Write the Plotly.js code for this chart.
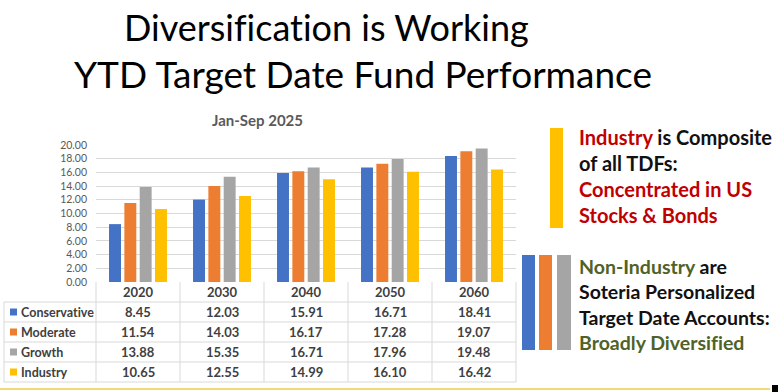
<!DOCTYPE html>
<html>
<head>
<meta charset="utf-8">
<script src="https://cdn.plot.ly/plotly-3.0.1.min.js"></script>
<style>html,body{margin:0;padding:0;background:#fff;}#chart{width:778px;height:392px;}#chart text{font-variant-ligatures:none;font-feature-settings:"liga" 0;}</style>
</head>
<body>
<div id="chart"></div>
<script>
const categories = ['2020', '2030', '2040', '2050', '2060'];
const conservative = [8.45, 12.03, 15.91, 16.71, 18.41];
const moderate = [11.54, 14.03, 16.17, 17.28, 19.07];
const growth = [13.88, 15.35, 16.71, 17.96, 19.48];
const industry = [10.65, 12.55, 14.99, 16.10, 16.42];
const seriesNames = ['Conservative', 'Moderate', 'Growth', 'Industry'];
const seriesValues = [conservative, moderate, growth, industry];
const seriesColors = ['#4472C4', '#ED7D31', '#A5A5A5', '#FFC000'];
const yTicks = [0, 2, 4, 6, 8, 10, 12, 14, 16, 18, 20];

const FONT = 'Lato, "Open Sans", sans-serif';
const L = 96, R = 516, T = 145, B = 282;
const px2x = p => (p - L) / (R - L);
const px2y = p => (B - p) / (B - T);

const traces = seriesNames.map((n, i) => ({
  type: 'bar', name: n, x: categories, y: seriesValues[i],
  marker: {color: seriesColors[i]}, hoverinfo: 'skip'
}));

const shapes = [];
const annotations = [];
const gridCol = '#D9D9D9';
const rowEdges = [302, 322, 342, 362, 382];
rowEdges.forEach(py => shapes.push({type: 'line', xref: 'paper', yref: 'paper',
  x0: px2x(4), x1: px2x(R), y0: px2y(py), y1: px2y(py), line: {color: gridCol, width: 1}}));
for (let c = 0; c <= categories.length; c++) {
  const xp = c / categories.length;
  shapes.push({type: 'line', xref: 'paper', yref: 'paper', x0: xp, x1: xp,
    y0: px2y(B), y1: px2y(382), line: {color: gridCol, width: 1}});
}
shapes.push({type: 'line', xref: 'paper', yref: 'paper', x0: px2x(4), x1: px2x(4),
  y0: px2y(302), y1: px2y(382), line: {color: gridCol, width: 1}});

function ann(o) {
  return Object.assign({showarrow: false, xanchor: 'center', yanchor: 'middle', yref: 'paper'}, o);
}

categories.forEach((c, k) => annotations.push(ann({xref: 'x', x: k, y: px2y(292),
  text: '<b>' + c + '</b>', font: {family: FONT, size: 13, color: '#404040'}})));
const rowCenters = [312, 332, 352, 372];
seriesNames.forEach((n, r) => {
  const yc = rowCenters[r];
  shapes.push({type: 'rect', xref: 'paper', yref: 'paper', x0: px2x(10), x1: px2x(17),
    y0: px2y(yc - 3.5), y1: px2y(yc + 3.5), fillcolor: seriesColors[r], line: {width: 0}});
  annotations.push(ann({xref: 'paper', x: px2x(19), y: px2y(yc), xanchor: 'left',
    text: '<b>' + n + '</b>', font: {family: FONT, size: 12.5, color: '#404040'}}));
  categories.forEach((c, k) => annotations.push(ann({xref: 'x', x: k, y: px2y(yc),
    text: '<b>' + seriesValues[r][k].toFixed(2) + '</b>',
    font: {family: FONT, size: 13, color: '#404040'}})));
});

annotations.push(ann({xref: 'paper', x: px2x(326), y: px2y(27), text: 'Diversification is Working',
  font: {family: FONT, size: 36, color: '#000'}}));
annotations.push(ann({xref: 'paper', x: px2x(363), y: px2y(73), text: 'YTD Target Date Fund Performance',
  font: {family: FONT, size: 37, color: '#000'}}));
annotations.push(ann({xref: 'paper', x: px2x(257), y: px2y(120), text: '<b>Jan-Sep 2025</b>',
  font: {family: FONT, size: 15, color: '#595959'}}));

const red = '#C00000', green = '#4F6228';
annotations.push(ann({xref: 'paper', x: px2x(577), y: px2y(176), xanchor: 'left', align: 'left',
  text: "<b><span style='color:" + red + "'>Industry</span> is Composite<br>of all TDFs:<br><span style='color:" + red + "'>Concentrated in US</span><br><span style='color:" + red + "'>Stocks &amp; Bonds</span></b>",
  font: {family: FONT, size: 20, color: '#111'}}));
annotations.push(ann({xref: 'paper', x: px2x(577), y: px2y(304), xanchor: 'left', align: 'left',
  text: "<b><span style='color:" + green + "'>Non-Industry</span> are<br>Soteria Personalized<br>Target Date Accounts:<br><span style='color:" + green + "'>Broadly Diversified</span></b>",
  font: {family: FONT, size: 19.5, color: '#111'}}));
shapes.push({type: 'rect', xref: 'paper', yref: 'paper', x0: px2x(550), x1: px2x(563), y0: px2y(228), y1: px2y(128),
  fillcolor: seriesColors[3], line: {width: 0}});
[[522, 535], [539, 552], [557, 571]].forEach((xx, i) => shapes.push({type: 'rect', xref: 'paper', yref: 'paper',
  x0: px2x(xx[0]), x1: px2x(xx[1]), y0: px2y(350), y1: px2y(255), fillcolor: seriesColors[i], line: {width: 0}}));

shapes.push({type: 'line', xref: 'paper', yref: 'paper', x0: px2x(0), x1: px2x(770), y0: px2y(389), y1: px2y(389),
  line: {color: '#F3D77C', width: 2}});
shapes.push({type: 'rect', xref: 'paper', yref: 'paper', x0: px2x(772), x1: px2x(778), y0: px2y(392), y1: px2y(385),
  fillcolor: '#000', line: {width: 0}});

const layout = {
  width: 778, height: 392,
  margin: {l: L, r: 778 - R, t: T, b: 392 - B, pad: 0},
  paper_bgcolor: '#fff', plot_bgcolor: '#fff',
  showlegend: false, barmode: 'group', bargap: 0.27, bargroupgap: 0.22,
  font: {family: FONT},
  xaxis: {type: 'category', range: [-0.5, categories.length - 0.5], autorange: false,
    showticklabels: false, showgrid: false, zeroline: false, showline: false, ticks: ''},
  yaxis: {range: [0, 20], autorange: false, tickvals: yTicks, tickformat: '.2f', gridcolor: gridCol, zeroline: false,
    showline: false, ticks: '', ticklabelstandoff: 8, tickfont: {family: FONT, size: 10.5, color: '#595959'}},
  shapes: shapes, annotations: annotations
};

Plotly.newPlot('chart', traces, layout, {staticPlot: true, displayModeBar: false});
</script>
</body>
</html>
